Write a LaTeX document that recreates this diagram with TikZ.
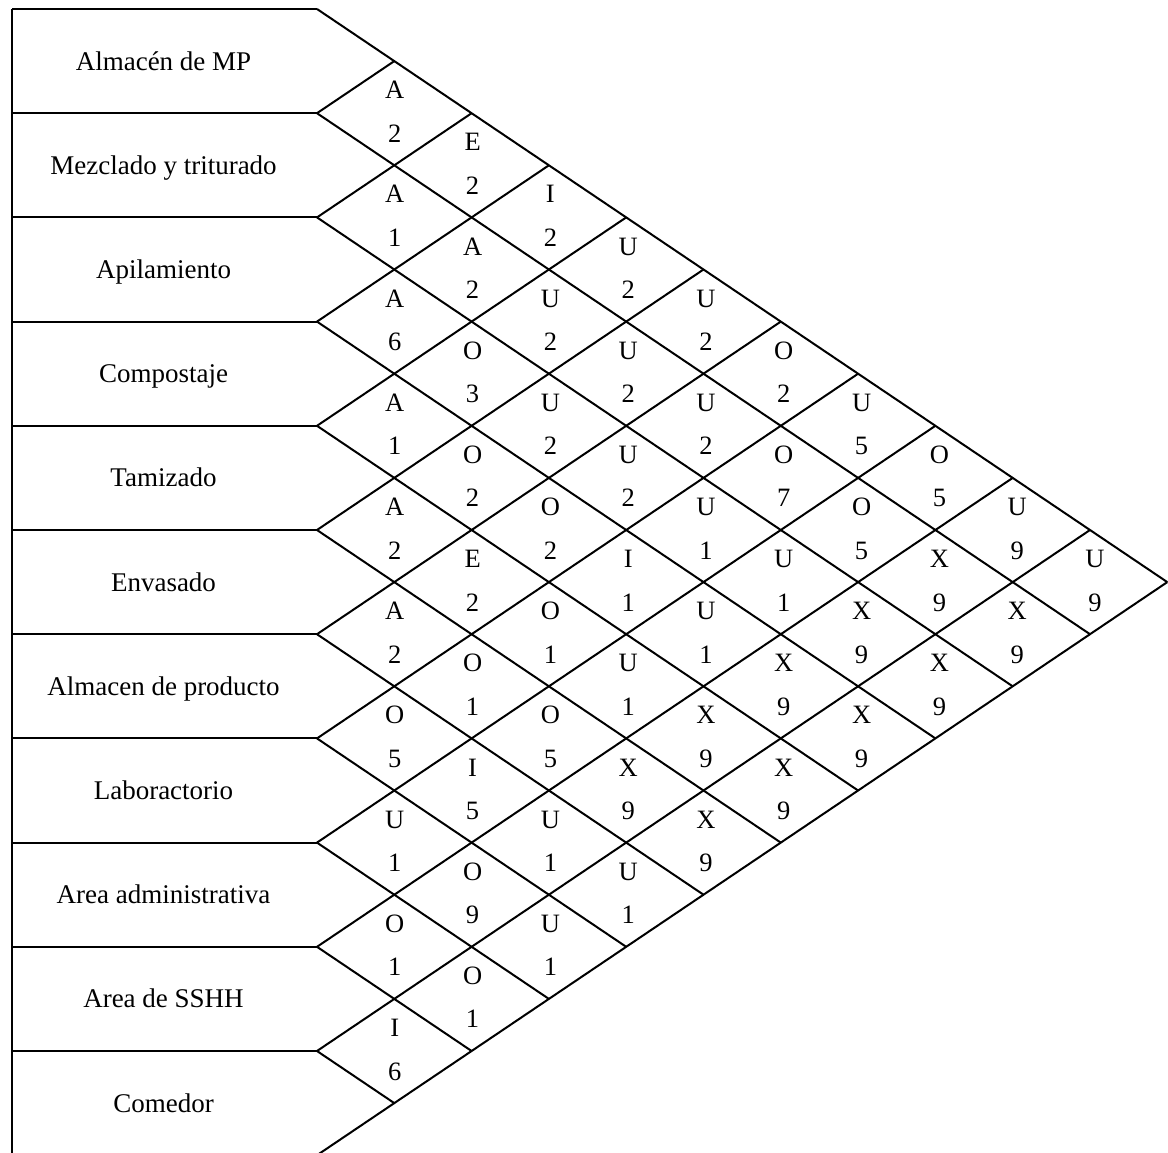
\documentclass[tikz,border=0pt]{standalone}
\usepackage{fontspec}
\setmainfont{Liberation Serif}
\begin{document}
\begin{tikzpicture}[x=1pt,y=-1pt,line width=2pt,
  rowlabel/.style={anchor=base,inner sep=0pt,font=\fontsize{27}{31}\selectfont},
  code/.style={anchor=base,inner sep=0pt,font=\fontsize{26.5}{30}\selectfont}]
\useasboundingbox (0,0) rectangle (1168,1152);
\clip (0,0) rectangle (1168,1152);
% grid geometry: left edge, box edge, top, row height, half diamond sizes
\def\xl{12}\def\xr{317}\def\yt{9}\def\rh{104.2}\def\hw{77.3}\def\hh{52.1}

% row boundary points
\foreach \k in {0,...,11} {
  \coordinate (L\k) at (\xl,\yt+\k*\rh);
  \coordinate (R\k) at (\xr,\yt+\k*\rh);
}
% far ends of the diagonals
\foreach \k in {0,...,11} {
  \pgfmathsetmacro\rest{11-\k}
  \coordinate (D\k) at (\xr+\rest*\hw,\yt+\k*\rh+\rest*\hh);
  \coordinate (U\k) at (\xr+\k*\hw,\yt+\k*\rh-\k*\hh);
}

% department boxes
\draw (L0) -- (L11);
\foreach \k in {0,...,10} \draw (L\k) -- (R\k);

% relationship grid
\foreach \k in {0,...,10} \draw (R\k) -- (D\k);
\foreach \k in {1,...,11} \draw (R\k) -- (U\k);

% department names
\foreach \dept [count=\i from 0] in {Almacén de MP,Mezclado y triturado,Apilamiento,Compostaje,Tamizado,Envasado,Almacen de producto,Laboractorio,Area administrativa,Area de SSHH,Comedor}
  \node[rowlabel] (row\i) at (163.5,\yt+\i*\rh+\hh+9) {\dept};

% closeness code and reason for each pair
\foreach \ca/\cb/\lt/\nm in {
  0/1/A/2,1/2/A/1,2/3/A/6,3/4/A/1,4/5/A/2,5/6/A/2,6/7/O/5,7/8/U/1,8/9/O/1,9/10/I/6,
  0/2/E/2,1/3/A/2,2/4/O/3,3/5/O/2,4/6/E/2,5/7/O/1,6/8/I/5,7/9/O/9,8/10/O/1,
  0/3/I/2,1/4/U/2,2/5/U/2,3/6/O/2,4/7/O/1,5/8/O/5,6/9/U/1,7/10/U/1,
  0/4/U/2,1/5/U/2,2/6/U/2,3/7/I/1,4/8/U/1,5/9/X/9,6/10/U/1,
  0/5/U/2,1/6/U/2,2/7/U/1,3/8/U/1,4/9/X/9,5/10/X/9,
  0/6/O/2,1/7/O/7,2/8/U/1,3/9/X/9,4/10/X/9,
  0/7/U/5,1/8/O/5,2/9/X/9,3/10/X/9,
  0/8/O/5,1/9/X/9,2/10/X/9,
  0/9/U/9,1/10/X/9,
  0/10/U/9} {
  \pgfmathsetmacro\dd{\cb-\ca}
  \pgfmathsetmacro\cx{\xr+\dd*\hw+0.5*\dd}
  \pgfmathsetmacro\cy{\yt+\hh+(\ca+\cb)*\hh}
  \node[code] (c\ca x\cb) at (\cx,\cy-14.5) {\lt};
  \node[code] (n\ca x\cb) at (\cx,\cy+29) {\nm};
}
\end{tikzpicture}
\end{document}
